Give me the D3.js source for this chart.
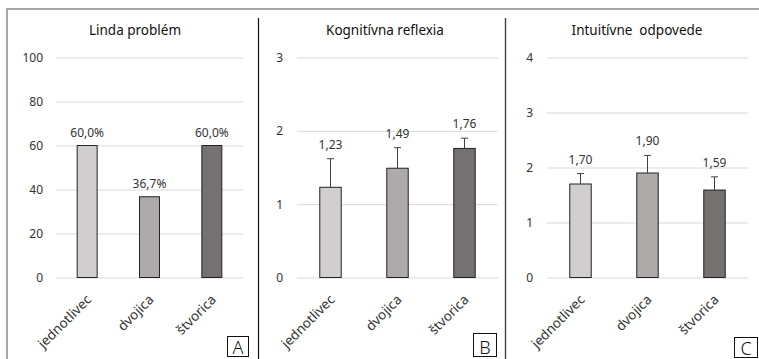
<!DOCTYPE html>
<html>
<head>
<meta charset="utf-8">
<script src="https://cdn.jsdelivr.net/npm/d3@7"></script>
<style>
  html, body { margin: 0; padding: 0; background: #fff; }
  svg { display: block; font-family: "Noto Sans", "Open Sans", sans-serif; }
</style>
</head>
<body>
<svg id="chart" width="759" height="359"></svg>
<script>
// Group sizes compared in all three panels
const categories = ["jednotlivec", "dvojica", "štvorica"];

// A: Linda problem, share of correct answers (%)
const lindaValues = [60.0, 36.7, 60.0];
const lindaTicks = [0, 20, 40, 60, 80, 100];

// B: cognitive reflection, mean score and upper error
const crtMeans = [1.23, 1.49, 1.76];
const crtErrors = [0.39, 0.28, 0.14];
const crtTicks = [0, 1, 2, 3];

// C: intuitive answers, mean count and upper error
const intuitiveMeans = [1.70, 1.90, 1.59];
const intuitiveErrors = [0.19, 0.32, 0.24];
const intuitiveTicks = [0, 1, 2, 3, 4];

const barColors = ["#d0cece", "#aeaaaa", "#767171"];

const svg = d3.select("#chart");
svg.append("rect").attr("width", 759).attr("height", 359).attr("fill", "#fff");

// outer frame (top and left edge) and panel separators
svg.append("line").attr("x1", 6).attr("x2", 759).attr("y1", 9).attr("y2", 9)
  .attr("stroke", "#a6a6a6").attr("stroke-width", 2);
svg.append("line").attr("x1", 7).attr("x2", 7).attr("y1", 8).attr("y2", 359)
  .attr("stroke", "#a6a6a6").attr("stroke-width", 2);
svg.append("line").attr("x1", 258.5).attr("x2", 258.5).attr("y1", 18).attr("y2", 359)
  .attr("stroke", "#111").attr("stroke-width", 1.2);
svg.append("line").attr("x1", 505.5).attr("x2", 505.5).attr("y1", 18).attr("y2", 359)
  .attr("stroke", "#444").attr("stroke-width", 1.4);

const y0 = 277.5, yTop = 57.5;

function panel(cfg) {
  const g = svg.append("g");
  const x = d3.scaleBand().domain(categories)
    .range([cfg.x0, cfg.x1]).paddingInner(0.68).paddingOuter(0.34);
  const y = d3.scaleLinear().domain([0, d3.max(cfg.ticks)]).range([y0, yTop]);

  // title
  g.append("text").attr("x", cfg.titleX).attr("y", 35)
    .attr("text-anchor", "middle").attr("font-size", 13.5).attr("fill", "#111")
    .style("white-space", "pre").text(cfg.title);

  // value axis with gridlines
  const ya = g.append("g").attr("transform", `translate(${cfg.x0},0)`)
    .call(d3.axisLeft(y).tickValues(cfg.ticks).tickSize(-(cfg.x1 - cfg.x0)).tickPadding(0)
      .tickFormat(d3.format("d")));
  ya.select(".domain").remove();
  ya.selectAll(".tick line").attr("stroke", "#d9d9d9");
  ya.selectAll(".tick text").attr("x", cfg.labelX - cfg.x0).attr("font-size", 12)
    .attr("fill", "#333").attr("font-family", "Noto Sans, sans-serif");

  // bars
  const vals = cfg.values;
  g.selectAll("rect.bar").data(vals).enter().append("rect")
    .attr("x", (d, i) => x(categories[i]))
    .attr("width", x.bandwidth())
    .attr("y", d => y(d))
    .attr("height", d => y0 - y(d))
    .attr("fill", (d, i) => barColors[i])
    .attr("stroke", "#222").attr("stroke-width", 1);

  // upper error bars
  if (cfg.errors) {
    const cx = i => x(categories[i]) + x.bandwidth() / 2;
    vals.forEach((d, i) => {
      const top = y(d + cfg.errors[i]);
      g.append("line").attr("x1", cx(i)).attr("x2", cx(i))
        .attr("y1", y(d)).attr("y2", top).attr("stroke", "#404040");
      g.append("line").attr("x1", cx(i) - 3.5).attr("x2", cx(i) + 3.5)
        .attr("y1", top).attr("y2", top).attr("stroke", "#404040");
    });
  }

  // value labels
  g.selectAll("text.val").data(vals).enter().append("text")
    .attr("x", (d, i) => x(categories[i]) + x.bandwidth() / 2)
    .attr("y", (d, i) => y(d + (cfg.errors ? cfg.errors[i] : 0)) - (cfg.errors ? 10 : 9))
    .attr("text-anchor", "middle").attr("font-size", 12).attr("fill", "#333")
    .text(cfg.format);

  // rotated category labels
  g.selectAll("text.cat").data(categories).enter().append("text")
    .attr("transform", d => `translate(${x(d) + x.bandwidth() / 2 + 5},${y0 + 23}) rotate(-45)`)
    .attr("text-anchor", "end").attr("font-size", 13.5).attr("fill", "#333")
    .text(d => d);

  // panel letter
  g.append("rect").attr("x", cfg.box[0]).attr("y", cfg.box[1])
    .attr("width", cfg.box[2]).attr("height", cfg.box[3])
    .attr("fill", "#fff").attr("stroke", "#111").attr("stroke-width", 1);
  g.append("text").attr("x", cfg.box[0] + cfg.box[2] / 2).attr("y", cfg.box[1] + cfg.box[3] - 3)
    .attr("text-anchor", "middle").attr("font-size", 18).attr("font-weight", 300)
    .attr("fill", "#111").text(cfg.letter);
}

const pct = d3.format(".1f");
const num = d3.format(".2f");

panel({
  title: "Linda problém", titleX: 135, x0: 56, x1: 243, labelX: 43,
  values: lindaValues, ticks: lindaTicks,
  format: d => pct(d).replace(".", ",") + "%",
  letter: "A", box: [227.5, 336.5, 21, 20]
});
panel({
  title: "Kognitívna reflexia", titleX: 385, x0: 297, x1: 498, labelX: 283,
  values: crtMeans, errors: crtErrors, ticks: crtTicks,
  format: d => num(d).replace(".", ","),
  letter: "B", box: [473.5, 333.5, 23, 23]
});
panel({
  title: "Intuitívne  odpovede", titleX: 637, x0: 547, x1: 748, labelX: 533,
  values: intuitiveMeans, errors: intuitiveErrors, ticks: intuitiveTicks,
  format: d => num(d).replace(".", ","),
  letter: "C", box: [734.5, 337.5, 23, 20]
});
</script>
</body>
</html>
